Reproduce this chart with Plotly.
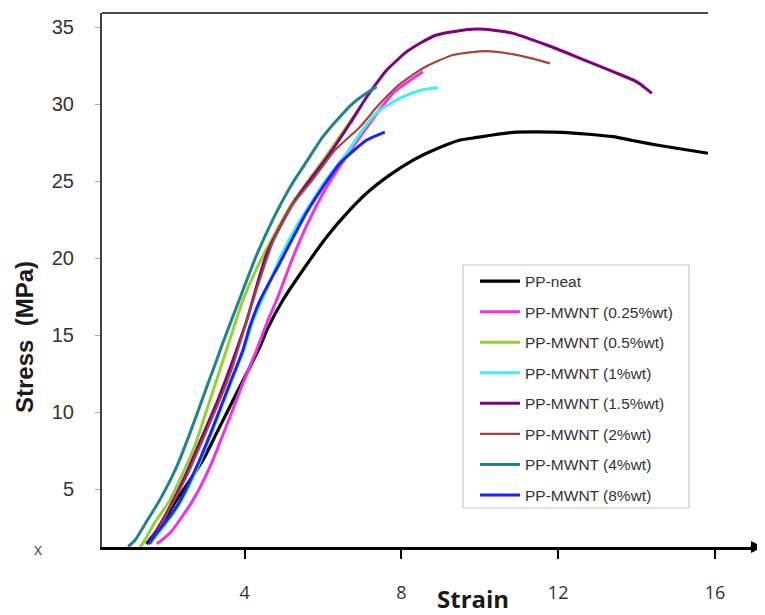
import plotly.graph_objects as go

# ---------------- data ----------------
series_names = [
    "PP-neat", "PP-MWNT (0.25%wt)", "PP-MWNT (0.5%wt)", "PP-MWNT (1%wt)",
    "PP-MWNT (1.5%wt)", "PP-MWNT (2%wt)", "PP-MWNT (4%wt)", "PP-MWNT (8%wt)",
]

neat_x = [1.50, 1.85, 2.27, 2.94, 3.29, 3.80, 4.14, 4.40, 4.60, 4.98, 5.49, 6.10, 6.60, 7.12,
          7.70, 8.30, 8.73, 9.50, 9.83, 10.85, 12.12, 13.40, 13.90, 14.51, 15.82]
neat_y = [1.45, 2.60, 4.31, 6.90, 8.66, 11.25, 12.96, 14.30, 15.50, 17.29, 19.24, 21.40, 22.90, 24.24,
          25.40, 26.38, 26.92, 27.68, 27.81, 28.18, 28.18, 27.90, 27.65, 27.36, 26.82]

mw025_x = [1.76, 2.10, 2.69, 3.12, 3.63, 3.96, 4.31, 4.60, 4.82, 5.24, 5.60, 6.10, 6.95, 7.79, 8.55]
mw025_y = [1.45, 2.16, 4.31, 6.47, 9.71, 11.90, 14.05, 15.99, 17.29, 20.10, 22.20, 24.65, 27.90, 30.73, 32.12]

mw05_x = [1.33, 1.41, 1.70, 2.10, 2.69, 3.12, 3.54, 3.96, 4.40, 5.20, 6.10, 7.00]
mw05_y = [1.27, 1.49, 2.80, 4.31, 7.55, 10.80, 14.05, 17.29, 19.80, 23.50, 26.70, 30.00]

mw1_x = [1.59, 2.30, 2.81, 3.22, 3.65, 3.98, 4.22, 4.55, 4.92, 5.35, 5.75, 6.05, 6.61, 7.00,
         7.37, 7.75, 8.14, 8.55, 8.94]
mw1_y = [1.45, 3.87, 6.47, 9.06, 11.90, 14.05, 15.99, 17.90, 20.10, 22.20, 23.80, 25.00, 26.84, 28.30,
         29.44, 30.10, 30.60, 30.95, 31.08]

mw15_x = [1.55, 2.00, 2.48, 2.90, 3.32, 3.65, 4.06, 4.57, 5.24, 6.18, 6.70, 7.12, 7.46, 7.63,
          8.14, 8.50, 8.90, 9.40, 9.92, 10.40, 10.85, 11.71, 12.56, 13.40, 14.00, 14.20, 14.39]
mw15_y = [1.45, 3.40, 5.82, 8.30, 10.80, 13.00, 15.99, 20.32, 23.57, 26.82, 28.80, 30.49, 31.69, 32.23,
          33.42, 34.00, 34.50, 34.75, 34.89, 34.80, 34.61, 33.85, 32.99, 32.12, 31.47, 31.10, 30.71]

mw2_x = [1.59, 2.00, 2.52, 2.95, 3.37, 3.70, 4.06, 4.22, 4.73, 5.20, 5.73, 6.30, 6.95, 7.40,
         7.88, 8.55, 9.32, 10.18, 11.03, 11.79]
mw2_y = [1.45, 3.30, 5.82, 8.30, 10.80, 13.00, 15.99, 17.29, 21.10, 23.40, 25.08, 27.00, 28.55, 29.90,
         31.14, 32.34, 33.20, 33.46, 33.16, 32.66]

mw4_x = [1.03, 1.21, 1.50, 1.84, 2.27, 2.61, 3.03, 3.29, 3.46, 3.76, 4.29, 4.70, 5.18, 5.60,
         6.00, 6.40, 6.77, 7.10, 7.37]
mw4_y = [1.27, 1.70, 2.90, 4.31, 6.47, 8.66, 11.60, 13.40, 14.60, 16.60, 20.10, 22.40, 24.70, 26.35,
         27.90, 29.10, 30.08, 30.70, 31.14]

mw8_x = [1.54, 2.27, 2.78, 3.20, 3.63, 3.96, 4.14, 4.40, 4.88, 5.59, 6.18, 6.44, 7.12, 7.58]
mw8_y = [1.45, 3.87, 6.47, 9.06, 11.90, 14.05, 15.60, 17.30, 19.60, 23.00, 25.30, 26.19, 27.68, 28.20]

x_tick_vals = [4, 8, 12, 16]
x_tick_text = ["4", "8", "12", "16"]
y_tick_vals = [5, 10, 15, 20, 25, 30, 35]
y_tick_text = ["5", "10", "15", "20", "25", "30", "35"]

x_title = "Strain"
y_title = "Stress  (MPa)"
stray_label = "x"

# ---------------- styles ----------------
colors = ["#000000", "#f52fe6", "#9acd32", "#3ff0f0", "#800080", "#a0473c", "#1f8585", "#1f1fff"]
widths = [3.2, 3, 3, 3, 3, 2.2, 3, 3]

xs = [neat_x, mw025_x, mw05_x, mw1_x, mw15_x, mw2_x, mw4_x, mw8_x]
ys = [neat_y, mw025_y, mw05_y, mw1_y, mw15_y, mw2_y, mw4_y, mw8_y]

# the page body adds an 8 px offset; compensate so the plot lands where the reference has it
OFF = 8
W, H = 765 - OFF, 615 - OFF
ML, MR, MT, MB = 102 - OFF, 2, 13 - OFF, 68
PW, PH = W - ML - MR, H - MT - MB


def px(xp):
    # window pixel x -> paper fraction
    return (xp - OFF - ML) / PW


def py(yp):
    # window pixel y -> paper fraction
    return (H - MB - (yp - OFF)) / PH


fig = go.Figure()
for i, name in enumerate(series_names):
    fig.add_trace(go.Scatter(
        x=xs[i], y=ys[i], mode="lines", name=name,
        line=dict(color=colors[i], width=widths[i], shape="spline", smoothing=0.6),
        legendgroup="g%d" % i,
    ))

fig.update_layout(
    width=W, height=H,
    margin=dict(l=ML, r=MR, t=MT, b=MB),
    paper_bgcolor="white", plot_bgcolor="white",
    showlegend=True,
    legend=dict(
        x=px(475), y=py(264.5), xanchor="left", yanchor="top",
        bgcolor="rgba(0,0,0,0)", borderwidth=0,
        font=dict(family="Liberation Sans, Arial, sans-serif", size=15.5, color="#333333"),
        tracegroupgap=7.4, itemwidth=40,
    ),
    xaxis=dict(
        range=[0.364, 17.226], showgrid=False, zeroline=False, automargin=False,
        showline=True, linecolor="black", linewidth=3,
        tickmode="array", tickvals=x_tick_vals, ticktext=x_tick_text,
        ticks="outside", ticklen=9, tickwidth=2, tickcolor="black",
        tickfont=dict(family="Open Sans, sans-serif", size=18, color="#333333"),
        ticklabelstandoff=18,
    ),
    yaxis=dict(
        range=[1.25, 35.93], showgrid=False, zeroline=False, automargin=False,
        showline=True, linecolor="#404040", linewidth=2,
        tickmode="array", tickvals=y_tick_vals, ticktext=y_tick_text,
        ticks="outside", ticklen=5, tickwidth=1, tickcolor="#aaaaaa",
        tickfont=dict(family="Liberation Sans, Arial, sans-serif", size=20, color="#333333"),
        ticklabelstandoff=17,
    ),
    shapes=[
        # top frame line
        dict(type="line", xref="paper", yref="paper", x0=0, x1=px(708), y0=1, y1=1,
             line=dict(color="#4a4a4a", width=2)),
        # legend box
        dict(type="rect", xref="paper", yref="paper", x0=px(463), x1=px(689), y0=py(508), y1=py(265),
             line=dict(color="#c8c8c8", width=1.2), fillcolor="rgba(0,0,0,0)", layer="below"),
    ],
    annotations=[
        dict(text="<b>%s</b>" % x_title, xref="paper", yref="paper", x=px(473), y=py(598),
             xanchor="center", yanchor="middle", showarrow=False,
             font=dict(family="Open Sans, sans-serif", size=24, color="#1a1a1a")),
        dict(text="<b>%s</b>" % y_title, xref="paper", yref="paper", x=px(25), y=py(337),
             xanchor="center", yanchor="middle", showarrow=False, textangle=-90,
             font=dict(family="Liberation Sans, Arial, sans-serif", size=24, color="#1a1a1a")),
        dict(text=stray_label, xref="paper", yref="paper", x=px(38), y=py(549),
             xanchor="center", yanchor="middle", showarrow=False,
             font=dict(family="Liberation Sans, Arial, sans-serif", size=16, color="#555555")),
        # arrow head at the end of the x axis
        dict(text="", xref="paper", yref="paper", x=1, y=0, ax=-14, ay=0, axref="pixel", ayref="pixel",
             showarrow=True, arrowhead=2, arrowsize=1.2, arrowwidth=2, arrowcolor="black"),
    ],
)

fig.write_html("out.html")
